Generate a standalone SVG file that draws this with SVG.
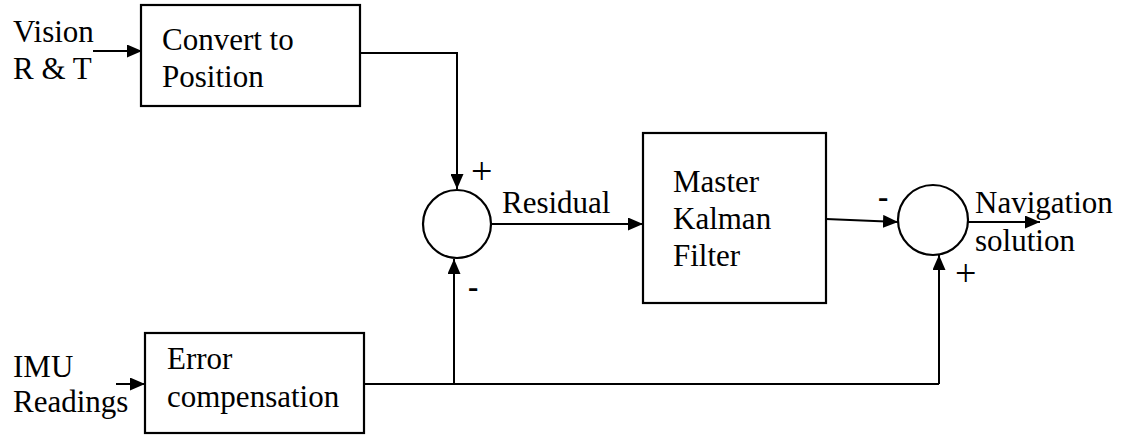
<svg xmlns="http://www.w3.org/2000/svg" width="1129" height="436" viewBox="0 0 1129 436">
<defs>
<marker id="ah" markerWidth="15" markerHeight="13" refX="15" refY="6.5" orient="auto" markerUnits="userSpaceOnUse"><path d="M0,0 L15,6.5 L0,13 Z" fill="#000"/></marker>
</defs>
<style>
.box,.sum{fill:#fff;stroke:#000;stroke-width:2.2}
.c{fill:none;stroke:#000;stroke-width:2}
.a{fill:none;stroke:#000;stroke-width:2;marker-end:url(#ah)}
</style>
<rect width="1129" height="436" fill="#fff"/>
<g id="connectors">
<line class="a" x1="93" y1="51" x2="142" y2="51"/>
<polyline class="a" points="360,53 457,53 457,189"/>
<line class="a" x1="491" y1="224" x2="643" y2="224"/>
<line class="a" x1="826" y1="219" x2="898" y2="222"/>
<line class="a" x1="968" y1="222" x2="1040" y2="222"/>
<line class="a" x1="116" y1="384" x2="145" y2="384"/>
<polyline class="c" points="364,384 939,384"/>
<line class="a" x1="454" y1="384" x2="454" y2="259"/>
<line class="a" x1="939" y1="384" x2="939" y2="255"/>
</g>
<g font-family="'Liberation Serif', 'Times New Roman', Times, serif" font-size="31" fill="#000">
<g id="vision-label"><text x="13" y="42">Vision</text><text x="13" y="79">R &amp; T</text></g>
<g id="imu-label"><text x="13" y="377">IMU</text><text x="13" y="412">Readings</text></g>
<g id="convert"><rect class="box" x="141" y="5" width="219" height="101"/><text x="162" y="50">Convert to</text><text x="162" y="87">Position</text></g>
<g id="error"><rect class="box" x="145" y="333" width="219" height="100"/><text x="167" y="369">Error</text><text x="167" y="407">compensation</text></g>
<g id="sum1"><circle class="sum" cx="457" cy="224" r="34"/><text x="471" y="184" font-size="38">+</text><text x="468" y="297" font-weight="bold">-</text></g>
<g id="residual-label"><text x="502" y="213">Residual</text></g>
<g id="kalman"><rect class="box" x="643" y="133" width="183" height="170"/><text x="673" y="192">Master</text><text x="673" y="229">Kalman</text><text x="673" y="266">Filter</text></g>
<g id="sum2"><circle class="sum" cx="933" cy="220" r="35"/><text x="878" y="207" font-weight="bold">-</text><text x="955" y="286" font-size="38">+</text></g>
<g id="nav-label"><text x="975" y="213">Navigation</text><text x="975" y="251">solution</text></g>
</g>
</svg>
